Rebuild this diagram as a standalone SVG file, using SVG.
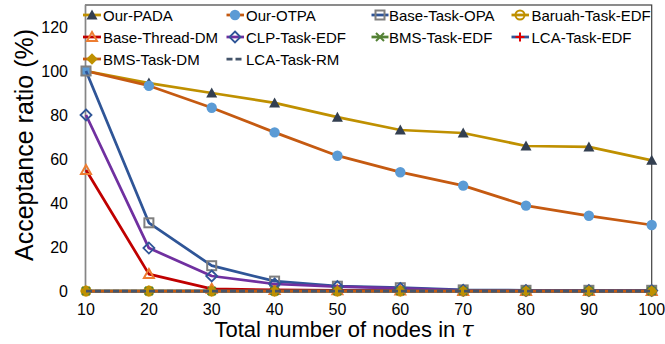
<svg xmlns="http://www.w3.org/2000/svg" width="665" height="344" viewBox="0 0 665 344">
<style>
  text { font-family: "Liberation Sans", Arial, sans-serif; fill: #000; }
  .leg { font-size: 15px; }
  .tick { font-size: 16px; }
  .title { font-size: 22px; }
  .ln { fill: none; stroke-width: 2.75; stroke-linejoin: round; stroke-linecap: butt; }
  .pada { stroke: #BF9000; }
  .otpa { stroke: #C55A11; }
  .opa { stroke: #2F5597; }
  .baruah { stroke: #BF9000; }
  .thread { stroke: #C00000; }
  .clp { stroke: #7030A0; }
  .bmsedf { stroke: #548235; }
  .lcaedf { stroke: #2F5597; }
  .bmsdm { stroke: #C55A11; }
  .lcarm { stroke: #44546A; stroke-dasharray: 6 3; }
</style>
<defs>
  <path id="mTriF" d="M0,-5.5 L5.5,4.5 L-5.5,4.5 Z" fill="#333F50"/>
  <circle id="mCirF" r="5.2" fill="#5B9BD5"/>
  <rect id="mSq" x="-4.5" y="-4.5" width="9" height="9" fill="none" stroke="#7F7F7F" stroke-width="2"/>
  <circle id="mCirH" r="4.5" fill="none" stroke="#BF9000" stroke-width="2"/>
  <path id="mTriH" d="M0,-5 L5,4 L-5,4 Z" fill="none" stroke="#ED7D31" stroke-width="2" stroke-linejoin="miter"/>
  <path id="mDiaH" d="M0,-5.5 L5.5,0 L0,5.5 L-5.5,0 Z" fill="none" stroke="#2F5597" stroke-width="1.8"/>
  <path id="mX" d="M-4,-4 L4,4 M4,-4 L-4,4" fill="none" stroke="#548235" stroke-width="2"/>
  <path id="mPlus" d="M-4.5,0 L4.5,0 M0,-4.5 L0,4.5" fill="none" stroke="#E00000" stroke-width="2"/>
  <path id="mDiaF" d="M0,-5.8 L5.8,0 L0,5.8 L-5.8,0 Z" fill="#BF9000"/>
</defs>

<!-- plot frame -->
<g id="frame">
  <rect x="85.5" y="5" width="566.2" height="286" fill="#fff" stroke="#404040" stroke-width="1.2"/>
  <line x1="85.5" y1="5" x2="85.5" y2="291" stroke="#868686" stroke-width="1.5"/>
</g>

<!-- axis labels -->
<g id="y-ticks" text-anchor="end">
  <text class="tick" x="68" y="32.5">120</text>
  <text class="tick" x="68" y="76.5">100</text>
  <text class="tick" x="68" y="120.5">80</text>
  <text class="tick" x="68" y="164.5">60</text>
  <text class="tick" x="68" y="208.5">40</text>
  <text class="tick" x="68" y="252.5">20</text>
  <text class="tick" x="68" y="296.5">0</text>
</g>
<g id="x-ticks" text-anchor="middle">
  <text class="tick" x="86" y="315">10</text>
  <text class="tick" x="148.9" y="315">20</text>
  <text class="tick" x="211.7" y="315">30</text>
  <text class="tick" x="274.6" y="315">40</text>
  <text class="tick" x="337.4" y="315">50</text>
  <text class="tick" x="400.3" y="315">60</text>
  <text class="tick" x="463.2" y="315">70</text>
  <text class="tick" x="526" y="315">80</text>
  <text class="tick" x="588.9" y="315">90</text>
  <text class="tick" x="651.7" y="315">100</text>
</g>
<text id="x-title" class="title" x="344" y="337" text-anchor="middle">Total number of nodes in <tspan font-style="italic" font-family="'DejaVu Serif', serif">τ</tspan></text>
<text id="y-title" class="title" style="font-size:25px" transform="translate(33,145) rotate(-90)" text-anchor="middle">Acceptance ratio (%)</text>

<!-- data series -->
<g id="connectors">
  <g id="s-pada">
    <polyline class="ln pada" points="86,71 148.9,83.1 211.7,93 274.6,102.9 337.4,117.2 400.3,130 463.2,133 526,146 588.9,146.9 651.7,160.3"/>
    <use href="#mTriF" x="86" y="71"/><use href="#mTriF" x="148.9" y="83.1"/><use href="#mTriF" x="211.7" y="93"/><use href="#mTriF" x="274.6" y="102.9"/><use href="#mTriF" x="337.4" y="117.2"/><use href="#mTriF" x="400.3" y="130"/><use href="#mTriF" x="463.2" y="133"/><use href="#mTriF" x="526" y="146"/><use href="#mTriF" x="588.9" y="146.9"/><use href="#mTriF" x="651.7" y="160.3"/>
  </g>
  <g id="s-otpa">
    <polyline class="ln otpa" points="86,71 148.9,85.7 211.7,107.7 274.6,132.4 337.4,155.7 400.3,172.2 463.2,185.6 526,205.6 588.9,215.8 651.7,225"/>
    <use href="#mCirF" x="86" y="71"/><use href="#mCirF" x="148.9" y="85.7"/><use href="#mCirF" x="211.7" y="107.7"/><use href="#mCirF" x="274.6" y="132.4"/><use href="#mCirF" x="337.4" y="155.7"/><use href="#mCirF" x="400.3" y="172.2"/><use href="#mCirF" x="463.2" y="185.6"/><use href="#mCirF" x="526" y="205.6"/><use href="#mCirF" x="588.9" y="215.8"/><use href="#mCirF" x="651.7" y="225"/>
  </g>
  <g id="s-opa">
    <polyline class="ln opa" points="86,71 148.9,222.8 211.7,265.7 274.6,281.1 337.4,286.2 400.3,287.7 463.2,289.9 526,290.3 588.9,290.3 651.7,290.3"/>
    <use href="#mSq" x="86" y="71"/><use href="#mSq" x="148.9" y="222.8"/><use href="#mSq" x="211.7" y="265.7"/><use href="#mSq" x="274.6" y="281.1"/><use href="#mSq" x="337.4" y="286.2"/><use href="#mSq" x="400.3" y="287.7"/><use href="#mSq" x="463.2" y="289.9"/><use href="#mSq" x="526" y="290.3"/><use href="#mSq" x="588.9" y="290.3"/><use href="#mSq" x="651.7" y="290.3"/>
  </g>
  <g id="s-baruah">
    <polyline class="ln baruah" points="86,291 651.7,291"/>
    <use href="#mCirH" x="86" y="291"/><use href="#mCirH" x="148.9" y="291"/><use href="#mCirH" x="211.7" y="291"/><use href="#mCirH" x="274.6" y="291"/><use href="#mCirH" x="337.4" y="291"/><use href="#mCirH" x="400.3" y="291"/><use href="#mCirH" x="463.2" y="291"/><use href="#mCirH" x="526" y="291"/><use href="#mCirH" x="588.9" y="291"/><use href="#mCirH" x="651.7" y="291"/>
  </g>
  <g id="s-thread">
    <polyline class="ln thread" points="86,170 148.9,274.1 211.7,288.8 274.6,289.9 337.4,290.3 400.3,290.6 463.2,291 526,291 588.9,291 651.7,291"/>
    <use href="#mTriH" x="86" y="170"/><use href="#mTriH" x="148.9" y="274.1"/><use href="#mTriH" x="211.7" y="288.8"/><use href="#mTriH" x="274.6" y="289.9"/><use href="#mTriH" x="337.4" y="290.3"/><use href="#mTriH" x="400.3" y="290.6"/><use href="#mTriH" x="463.2" y="291"/><use href="#mTriH" x="526" y="291"/><use href="#mTriH" x="588.9" y="291"/><use href="#mTriH" x="651.7" y="291"/>
  </g>
  <g id="s-clp">
    <polyline class="ln clp" points="86,115 148.9,248.1 211.7,276 274.6,284 337.4,286.6 400.3,288.4 463.2,290.3 526,290.6 588.9,290.6 651.7,290.6"/>
    <use href="#mDiaH" x="86" y="115"/><use href="#mDiaH" x="148.9" y="248.1"/><use href="#mDiaH" x="211.7" y="276"/><use href="#mDiaH" x="274.6" y="284"/><use href="#mDiaH" x="337.4" y="286.6"/><use href="#mDiaH" x="400.3" y="288.4"/><use href="#mDiaH" x="463.2" y="290.3"/><use href="#mDiaH" x="526" y="290.6"/><use href="#mDiaH" x="588.9" y="290.6"/><use href="#mDiaH" x="651.7" y="290.6"/>
  </g>
  <g id="s-bmsedf">
    <polyline class="ln bmsedf" points="86,291 651.7,291"/>
    <use href="#mX" x="86" y="291"/><use href="#mX" x="148.9" y="291"/><use href="#mX" x="211.7" y="291"/><use href="#mX" x="274.6" y="291"/><use href="#mX" x="337.4" y="291"/><use href="#mX" x="400.3" y="291"/><use href="#mX" x="463.2" y="291"/><use href="#mX" x="526" y="291"/><use href="#mX" x="588.9" y="291"/><use href="#mX" x="651.7" y="291"/>
  </g>
  <g id="s-lcaedf">
    <polyline class="ln lcaedf" points="86,291 651.7,291"/>
    <use href="#mPlus" x="86" y="291"/><use href="#mPlus" x="148.9" y="291"/><use href="#mPlus" x="211.7" y="291"/><use href="#mPlus" x="274.6" y="291"/><use href="#mPlus" x="337.4" y="291"/><use href="#mPlus" x="400.3" y="291"/><use href="#mPlus" x="463.2" y="291"/><use href="#mPlus" x="526" y="291"/><use href="#mPlus" x="588.9" y="291"/><use href="#mPlus" x="651.7" y="291"/>
  </g>
  <g id="s-bmsdm">
    <polyline class="ln bmsdm" points="86,291 651.7,291"/>
    <use href="#mDiaF" x="86" y="291"/><use href="#mDiaF" x="148.9" y="291"/><use href="#mDiaF" x="211.7" y="291"/><use href="#mDiaF" x="274.6" y="291"/><use href="#mDiaF" x="337.4" y="291"/><use href="#mDiaF" x="400.3" y="291"/><use href="#mDiaF" x="463.2" y="291"/><use href="#mDiaF" x="526" y="291"/><use href="#mDiaF" x="588.9" y="291"/><use href="#mDiaF" x="651.7" y="291"/>
  </g>
  <g id="s-lcarm">
    <polyline class="ln lcarm" points="86,291 651.7,291"/>
  </g>
</g>

<!-- legend -->
<g id="legend">
  <g id="leg-pada"><line class="ln pada" x1="83" y1="15" x2="101" y2="15"/><use href="#mTriF" x="92" y="15"/><text class="leg" x="103" y="20.5">Our-PADA</text></g>
  <g id="leg-otpa"><line class="ln otpa" x1="226.5" y1="15" x2="244" y2="15"/><use href="#mCirF" x="235" y="15"/><text class="leg" x="246" y="20.5">Our-OTPA</text></g>
  <g id="leg-opa"><line class="ln opa" x1="371.5" y1="15" x2="388.5" y2="15"/><use href="#mSq" x="380" y="15"/><text class="leg" x="389" y="20.5">Base-Task-OPA</text></g>
  <g id="leg-baruah"><line class="ln baruah" x1="511.5" y1="15" x2="529" y2="15"/><use href="#mCirH" x="520" y="15"/><text class="leg" x="531.5" y="20.5">Baruah-Task-EDF</text></g>
  <g id="leg-thread"><line class="ln thread" x1="83" y1="37" x2="101" y2="37"/><use href="#mTriH" x="92" y="37"/><text class="leg" x="103" y="42.5">Base-Thread-DM</text></g>
  <g id="leg-clp"><line class="ln clp" x1="226.5" y1="37" x2="244" y2="37"/><use href="#mDiaH" x="235" y="37"/><text class="leg" x="246" y="42.5">CLP-Task-EDF</text></g>
  <g id="leg-bmsedf"><line class="ln bmsedf" x1="371.5" y1="37" x2="388.5" y2="37"/><use href="#mX" x="380" y="37"/><text class="leg" x="389" y="42.5">BMS-Task-EDF</text></g>
  <g id="leg-lcaedf"><line class="ln lcaedf" x1="511.5" y1="37" x2="529" y2="37"/><use href="#mPlus" x="520" y="37"/><text class="leg" x="531.5" y="42.5">LCA-Task-EDF</text></g>
  <g id="leg-bmsdm"><line class="ln bmsdm" x1="83" y1="59" x2="101" y2="59"/><use href="#mDiaF" x="92" y="59"/><text class="leg" x="103" y="64.5">BMS-Task-DM</text></g>
  <g id="leg-lcarm"><line class="ln" stroke="#44546A" stroke-dasharray="6 3" x1="226.5" y1="59" x2="244" y2="59"/><text class="leg" x="246" y="64.5">LCA-Task-RM</text></g>
</g>
</svg>
